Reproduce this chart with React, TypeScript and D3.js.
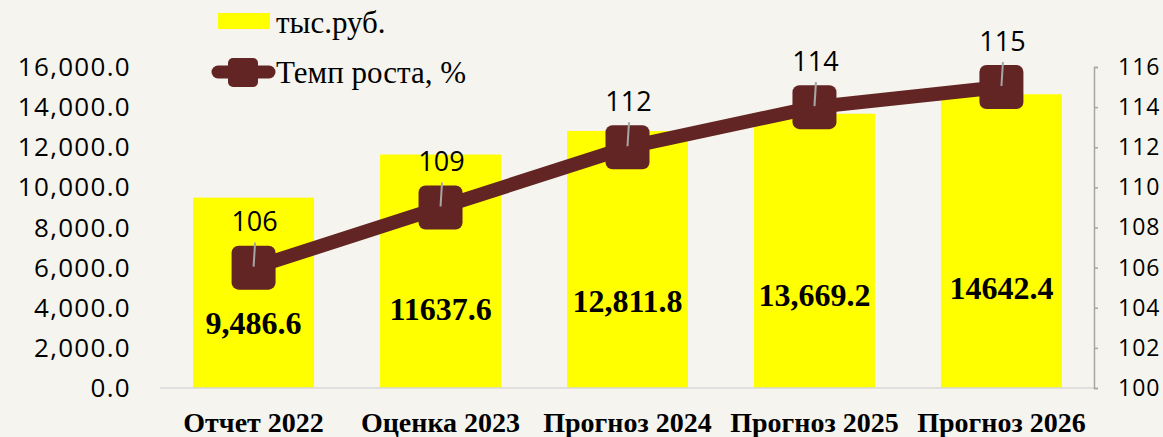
import React, { useRef, useEffect } from 'react';
import * as d3 from 'd3';

const categories = ['Отчет 2022', 'Оценка 2023', 'Прогноз 2024', 'Прогноз 2025', 'Прогноз 2026'];
const amounts = [9486.6, 11637.6, 12811.8, 13669.2, 14642.4];
const amountLabels = ['9,486.6', '11637.6', '12,811.8', '13,669.2', '14642.4'];
const growth = [106, 109, 112, 114, 115];
const leftTicks = [0, 2000, 4000, 6000, 8000, 10000, 12000, 14000, 16000];
const rightTicks = [100, 102, 104, 106, 108, 110, 112, 114, 116];
const legendNames = ['тыс.руб.', 'Темп роста, %'];

const W = 1163, H = 437;
const margin = { l: 160, r: 68, t: 67, b: 49 };
const BG = '#f5f4ee';
const BAR = '#ffff00';
const LINE = '#632523';
const SERIF = "'Liberation Serif', 'Times New Roman', serif";
const SANS = "'Open Sans', sans-serif";

export default function App() {
    const svg_ref = useRef<SVGSVGElement>(null);
    useEffect(() => draw(svg_ref.current), []);
    return (
        <svg ref={svg_ref} width={W} height={H}
            style={{ position: 'absolute', left: 0, top: 0, background: BG }} />
    );
}

function draw(node: SVGSVGElement | null) {
    if (!node) return;
    const svg = d3.select(node);
    svg.selectAll('*').remove();

    const x = d3.scaleBand().domain(categories).range([margin.l, W - margin.r]).paddingInner(0.353).paddingOuter(0.177);
    const yL = d3.scaleLinear().domain([0, 16000]).range([H - margin.b, margin.t]);
    const yR = d3.scaleLinear().domain([100, 116]).range([H - margin.b, margin.t]);
    const cx = (c: string) => (x(c) as number) + x.bandwidth() / 2;

    // bars
    svg.append('g').selectAll('rect').data(amounts).join('rect')
        .attr('x', (d, i) => x(categories[i]) as number)
        .attr('y', d => yL(d))
        .attr('width', x.bandwidth())
        .attr('height', d => yL(0) - yL(d))
        .attr('fill', BAR);

    // bottom axis line
    svg.append('line')
        .attr('x1', margin.l).attr('x2', W - margin.r)
        .attr('y1', yL(0)).attr('y2', yL(0))
        .attr('stroke', '#d9d9d9').attr('stroke-width', 1.5);

    // left axis labels (no line)
    svg.append('g').selectAll('text').data(leftTicks).join('text')
        .attr('x', 131).attr('y', d => yL(d))
        .attr('dy', '0.35em')
        .attr('text-anchor', 'end')
        .style('font-family', SANS)
        .style('font-size', '26px')
        .style('letter-spacing', '1.3px')
        .attr('fill', '#000')
        .text(d => d3.format(',.1f')(d));

    // right axis
    const rAxis = d3.axisRight(yR).tickValues(rightTicks).tickSize(4).tickPadding(20).tickFormat(d3.format('d'));
    const rg = svg.append('g').attr('transform', `translate(${W - margin.r - 1},0)`).call(rAxis);
    rg.select('.domain').attr('stroke', '#a6a6a6').attr('stroke-width', 1.5);
    rg.selectAll('.tick line').attr('stroke', '#a6a6a6').attr('stroke-width', 1.5);
    rg.selectAll('.tick text').style('font-family', SANS).style('font-size', '23px')
        .style('letter-spacing', '1px').attr('fill', '#000');

    // category labels
    svg.append('g').selectAll('text').data(categories).join('text')
        .attr('x', d => cx(d)).attr('y', 432)
        .attr('text-anchor', 'middle')
        .style('font-family', SERIF)
        .style('font-weight', 'bold')
        .style('font-size', '28px')
        .text(d => d);

    // bar value labels
    svg.append('g').selectAll('text').data(amounts).join('text')
        .attr('x', (d, i) => cx(categories[i]))
        .attr('y', d => yL(d * 0.34))
        .attr('dy', '0.35em')
        .attr('text-anchor', 'middle')
        .style('font-family', SERIF)
        .style('font-weight', 'bold')
        .style('font-size', '32px')
        .text((d, i) => amountLabels[i]);

    // line
    const pts = growth.map((v, i) => [cx(categories[i]), yR(v)] as [number, number]);
    svg.append('path')
        .attr('d', d3.line()(pts))
        .attr('fill', 'none')
        .attr('stroke', LINE)
        .attr('stroke-width', 14);

    svg.append('g').selectAll('rect').data(pts).join('rect')
        .attr('x', d => d[0] - 22).attr('y', d => d[1] - 22)
        .attr('width', 44).attr('height', 44)
        .attr('rx', 7)
        .attr('fill', LINE);

    // leader lines + line labels
    svg.append('g').selectAll('line').data(pts).join('line')
        .attr('x1', d => d[0] + 1.5).attr('y1', d => d[1] - 25)
        .attr('x2', d => d[0]).attr('y2', d => d[1] - 1)
        .attr('stroke', '#a6a6a6').attr('stroke-width', 2);

    svg.append('g').selectAll('text').data(growth).join('text')
        .attr('x', (d, i) => pts[i][0] + 1)
        .attr('y', (d, i) => pts[i][1] - 46)
        .attr('dy', '0.35em')
        .attr('text-anchor', 'middle')
        .style('font-family', SANS)
        .style('font-size', '27px')
        .text(d => d);

    // legend
    const lg = svg.append('g');
    lg.append('rect').attr('x', 218).attr('y', 13).attr('width', 52).attr('height', 16).attr('fill', BAR);
    lg.append('line').attr('x1', 218).attr('x2', 269).attr('y1', 72).attr('y2', 72)
        .attr('stroke', LINE).attr('stroke-width', 13).attr('stroke-linecap', 'round');
    lg.append('rect').attr('x', 228).attr('y', 58).attr('width', 30).attr('height', 29).attr('rx', 5).attr('fill', LINE);
    lg.selectAll('text').data(legendNames).join('text')
        .attr('x', 276).attr('y', (d, i) => i === 0 ? 33 : 83)
        .style('font-family', SERIF)
        .style('font-size', '31px')
        .text(d => d);
}
